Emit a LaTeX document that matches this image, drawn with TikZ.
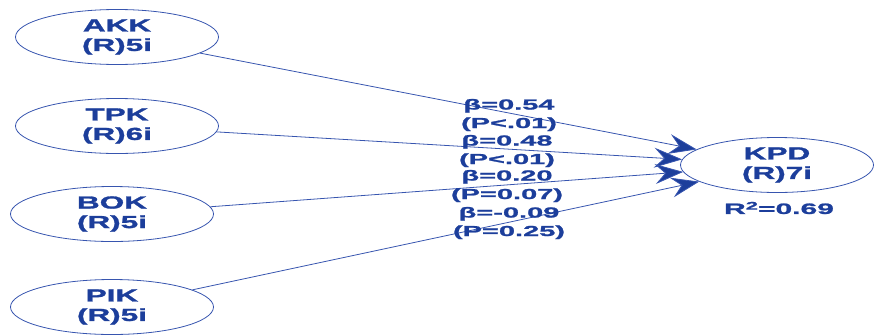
\documentclass[tikz,border=0pt]{standalone}
\usepackage{fontspec}
\newfontfamily\pathfont{Liberation Sans}[FakeStretch=1.8,FakeBold=1.5]
\newfontfamily\coeffont{Liberation Sans}[FakeStretch=2.0,FakeBold=1.5]
\usepackage{tikz}
\usetikzlibrary{shapes.geometric,arrows.meta}
\definecolor{linecol}{RGB}{55,85,175}
\definecolor{txtcol}{RGB}{28,62,155}
\tikzset{
  latent/.style={ellipse, draw=linecol, line width=0.8pt, text=txtcol,
    minimum width=203pt, minimum height=55pt, inner sep=0pt, align=center,
    font=\pathfont\bfseries\fontsize{17.5}{19.5}\selectfont},
  path coef/.style={text=txtcol, align=center, inner sep=0pt,
    font=\coeffont\bfseries\fontsize{14.5}{18.5}\selectfont},
  effect/.style={draw=linecol, line width=0.8pt,
    -{Stealth[length=28pt,width=20pt,inset=10pt,fill=txtcol]}}
}
\begin{document}
\begin{tikzpicture}[x=1pt,y=-1pt]
    \useasboundingbox (0,0) rectangle (874,335);
    \node[latent] (AKK) at (117,37) {AKK\\(R)5i};
    \node[latent] (TPK) at (117,126) {TPK\\(R)6i};
    \node[latent] (BOK) at (112,214) {BOK\\(R)5i};
    \node[latent] (PIK) at (112,307) {PIK\\(R)5i};
    \node[latent, minimum width=193pt] (KPD) at (777,165) {KPD\\(R)7i};
    \draw[effect] (AKK) -- (KPD);
    \draw[effect] (TPK) -- (KPD);
    \draw[effect] (BOK) -- (KPD);
    \draw[effect] (PIK) -- (KPD);
    \node[path coef] (cAKK) at (509,115) {β=0.54\\(P<.01)};
    \node[path coef] (cTPK) at (507,151) {β=0.48\\(P<.01)};
    \node[path coef] (cBOK) at (507,186) {β=0.20\\(P=0.07)};
    \node[path coef] (cPIK) at (509,223) {β=-0.09\\(P=0.25)};
    \node[path coef, font=\coeffont\bfseries\fontsize{15}{18}\selectfont] (rsq) at (779,208) {R\raisebox{0.55ex}{\fontsize{11}{11}\selectfont 2}=0.69};
\end{tikzpicture}
\end{document}
